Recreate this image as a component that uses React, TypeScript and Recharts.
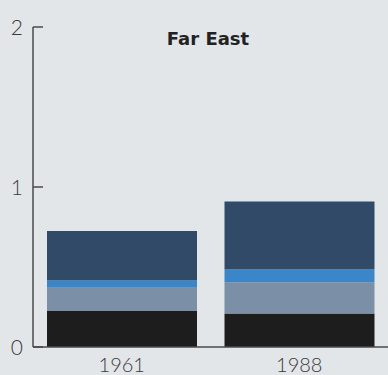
import React from 'react';
import { BarChart, Bar, XAxis, YAxis } from 'recharts';

const categories = ['1961', '1988'];
const blackSeries = [0.225, 0.21];
const graySeries = [0.145, 0.195];
const lightBlueSeries = [0.045, 0.08];
const darkBlueSeries = [0.31, 0.425];
const yTicks = [0, 1, 2];
const title = 'Far East';

const data = categories.map((c, i) => ({
  name: c,
  black: blackSeries[i],
  gray: graySeries[i],
  light: lightBlueSeries[i],
  dark: darkBlueSeries[i],
}));

const W = 388;
const H = 375;
const AXIS_W = 33;
const FONT = 'Lato, "DejaVu Sans", sans-serif';
const AXIS_COLOR = '#4a4a4a';

const YTick = (props: any) => {
  const { y, payload } = props;
  return (
    <g>
      <line x1={AXIS_W} x2={AXIS_W + 10} y1={y} y2={y} stroke={AXIS_COLOR} strokeWidth={1.5} />
      <text x={23} y={y} dy="0.36em" textAnchor="end" fontSize={21} fill="#3a3a3a" fontFamily={FONT} fontWeight={300}>
        {payload.value}
      </text>
    </g>
  );
};

export default function App() {
  return (
    <div style={{ position: 'fixed', left: 0, top: 0, width: W, height: H, background: '#e3e6e9' }}>
      <BarChart width={W} height={H} data={data} margin={{ top: 27, right: 0, bottom: 0, left: 0 }} barCategoryGap={0}>
        <XAxis
          dataKey="name"
          height={28}
          tickLine={false}
          tickMargin={5}
          axisLine={{ stroke: AXIS_COLOR, strokeWidth: 1.5 }}
          tick={{ fontSize: 20, fill: '#3a3a3a', fontFamily: FONT, fontWeight: 300 }}
        />
        <YAxis
          width={AXIS_W}
          domain={[0, 2]}
          ticks={yTicks}
          tickLine={false}
          axisLine={{ stroke: AXIS_COLOR, strokeWidth: 1.5 }}
          tick={<YTick />}
        />
        <Bar dataKey="black" stackId="a" fill="#1d1d1e" barSize={150} isAnimationActive={false} />
        <Bar dataKey="gray" stackId="a" fill="#7b8fa6" barSize={150} isAnimationActive={false} />
        <Bar dataKey="light" stackId="a" fill="#3a86c9" barSize={150} isAnimationActive={false} />
        <Bar dataKey="dark" stackId="a" fill="#304a67" barSize={150} isAnimationActive={false} />
      </BarChart>
      <div
        style={{
          position: 'absolute',
          left: 208,
          top: 28,
          transform: 'translateX(-50%)',
          fontFamily: '"DejaVu Sans", sans-serif',
          fontWeight: 700,
          fontSize: 18,
          color: '#222',
          whiteSpace: 'nowrap',
        }}
      >
        {title}
      </div>
    </div>
  );
}
